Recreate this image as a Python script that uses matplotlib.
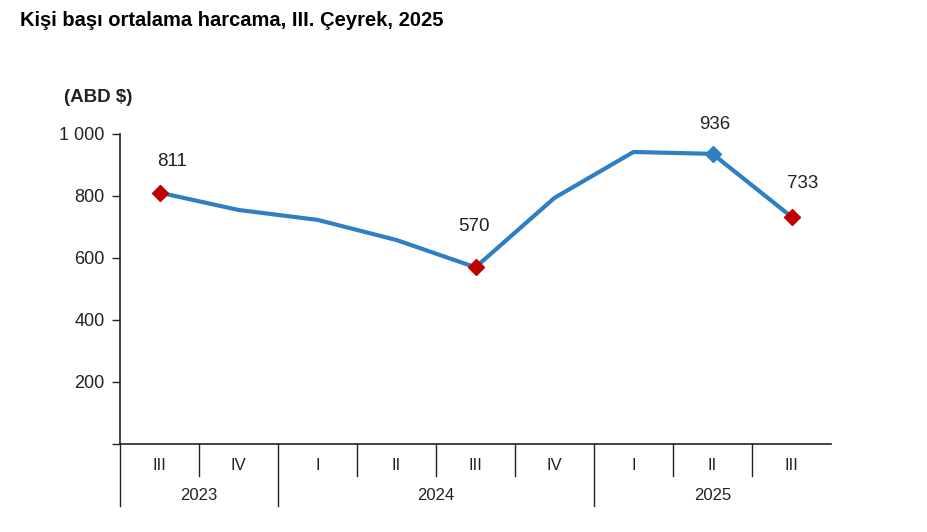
import numpy as np
import matplotlib.pyplot as plt
from matplotlib.ticker import FuncFormatter
import matplotlib.transforms as mtransforms

plt.rcParams['font.family'] = ['Liberation Sans', 'DejaVu Sans']

# data
quarters = ['III', 'IV', 'I', 'II', 'III', 'IV', 'I', 'II', 'III']
years = ['2023', '2024', '2025']
year_span = [2, 4, 3]  # number of quarters per year
values = [811, 755, 723, 658, 570, 794, 942, 936, 733]
labelled = {0: 811, 4: 570, 7: 936, 8: 733}
red_points = [0, 4, 8]
blue_points = [7]

line_col = '#2E7FC4'
red_col = '#C00000'
txt_col = '#222222'

fig = plt.figure(figsize=(9.27, 5.32), dpi=100)
ax = fig.add_axes([120 / 927, 88 / 532, 711 / 927, 310 / 532])

x = np.arange(len(values))
ax.plot(x, values, color=line_col, lw=3, solid_capstyle='round', zorder=2)
ax.plot(x[red_points], np.array(values)[red_points], 'D', color=red_col,
        ms=8.5, zorder=3)
ax.plot(x[blue_points], np.array(values)[blue_points], 'D', color=line_col,
        ms=8.5, zorder=3)

# label offsets in points
offsets = {0: (9.4, 22.3), 4: (-1.4, 29.5), 7: (1.4, 21), 8: (8, 24)}
for i, v in labelled.items():
    ax.annotate(str(v), (i, v), xytext=offsets[i], textcoords='offset points',
                ha='center', va='center', fontsize=13.5, color=txt_col)

ax.set_xlim(-0.5, len(values) - 0.5)
ax.set_ylim(0, 1000)
ax.set_yticks(range(0, 1001, 200))
ax.yaxis.set_major_formatter(FuncFormatter(
    lambda v, p: '' if v == 0 else f'{int(v):,}'.replace(',', ' ')))
ax.tick_params(axis='y', length=5.5, width=1, labelsize=13, pad=5.5,
               labelcolor=txt_col, color=txt_col)
ax.set_xticks([])
for s in ['top', 'right']:
    ax.spines[s].set_visible(False)
for s in ['left', 'bottom']:
    ax.spines[s].set_linewidth(1.2)
    ax.spines[s].set_color(txt_col)

# category axis: quarters and years
trans = mtransforms.blended_transform_factory(ax.transData, ax.transAxes)
px = 1 / 310  # one pixel in axes units (vertical)
narrow = ['Liberation Sans Narrow', 'Liberation Sans', 'DejaVu Sans']
for i, q in enumerate(quarters):
    ax.text(i, -22 * px, q, transform=trans, ha='center', va='center',
            fontsize=12, color=txt_col, family=narrow)
edges = np.cumsum([0] + year_span) - 0.5
for i in range(len(quarters)):
    b = i - 0.5
    depth = 62 if np.isclose(edges, b).any() else 32
    ax.plot([b, b], [0, -depth * px], transform=trans, color=txt_col,
            lw=1, clip_on=False)
for k, yname in enumerate(years):
    c = (edges[k] + edges[k + 1]) / 2
    ax.text(c, -51 * px, yname, transform=trans, ha='center', va='center',
            fontsize=12, color=txt_col, family=narrow)

fig.text(20 / 927, 1 - 21 / 532, 'Kişi başı ortalama harcama, III. Çeyrek, 2025',
         ha='left', va='center', fontsize=14.5, fontweight='bold')
fig.text(98 / 927, 1 - 97 / 532, '(ABD $)', ha='center', va='center',
         fontsize=13.5, fontweight='bold', color=txt_col)

fig.savefig('out.png', dpi=100)
